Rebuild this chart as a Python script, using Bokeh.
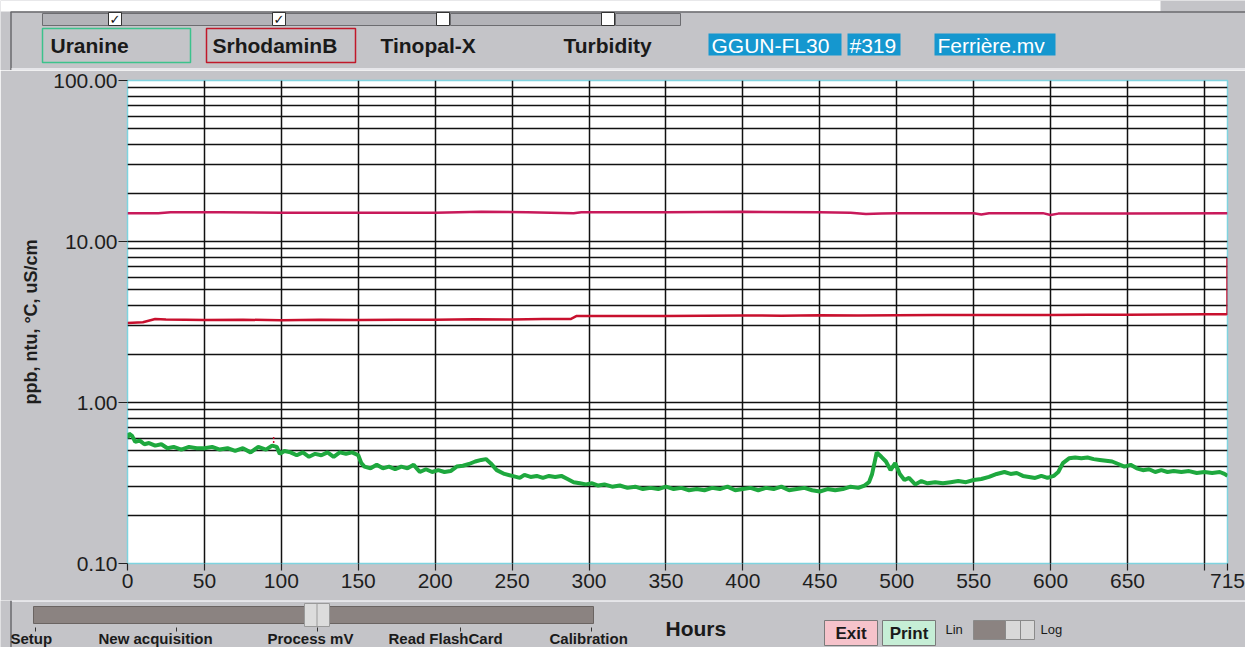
from bokeh.plotting import figure
from bokeh.models import Range1d, FixedTicker, CustomJSTickFormatter
from bokeh.embed import file_html
from bokeh.resources import INLINE
from bokeh.core.properties import value

# ---------------- data ----------------
hours_uranine = [0, 1, 3, 5, 8, 11, 14, 18, 22, 26,
                 30, 35, 40, 45, 50, 55, 60, 65, 70, 75,
                 80, 85, 90, 94, 97, 99, 102, 106, 110, 114,
                 118, 122, 126, 130, 134, 138, 142, 146, 150,
                 152, 154, 158, 162, 166, 170, 174, 178, 182, 186,
                 190, 194, 198, 202, 206, 210, 214, 218, 222, 226,
                 230, 233, 236, 240,
                 245, 250, 255, 258, 262, 266, 270, 274, 278, 282,
                 286, 290, 294, 298, 302, 306, 310, 315, 320, 325,
                 330, 335, 340, 345, 350, 355, 360, 365, 370, 375,
                 380, 385, 390, 395, 400, 405, 410, 415, 420, 425,
                 430, 435, 440, 445, 450, 455, 460, 465, 470, 475,
                 479, 482,
                 484, 487, 490, 493, 496, 499, 502,
                 505, 508, 512, 516, 520, 525, 530, 535, 540, 545,
                 550, 555, 560, 565, 570, 574, 578, 582, 586, 590,
                 594, 598, 602, 605, 608, 612, 616, 620, 624, 628,
                 632, 636, 640, 644, 648, 652, 656, 660, 664, 668,
                 672, 676, 680, 685, 690, 695, 700, 705, 710, 713,
                 715]
uranine = [0.60, 0.64, 0.62, 0.57, 0.58, 0.55, 0.56, 0.54, 0.55, 0.52,
           0.53, 0.51, 0.53, 0.52, 0.52, 0.53, 0.51, 0.52, 0.50, 0.52,
           0.49, 0.53, 0.51, 0.54, 0.53, 0.48, 0.50, 0.49, 0.47, 0.49,
           0.46, 0.48, 0.47, 0.49, 0.46, 0.49, 0.48, 0.49, 0.47,
           0.42, 0.40, 0.39, 0.41, 0.39, 0.40, 0.385, 0.40, 0.39, 0.41,
           0.37, 0.385, 0.37, 0.38, 0.37, 0.375, 0.40, 0.405, 0.415, 0.43,
           0.44, 0.445, 0.42, 0.38,
           0.36, 0.35, 0.34, 0.355, 0.345, 0.35, 0.34, 0.35, 0.345, 0.35,
           0.335, 0.32, 0.315, 0.31, 0.315, 0.305, 0.31, 0.30, 0.305, 0.295,
           0.30, 0.29, 0.295, 0.29, 0.30, 0.29, 0.295, 0.285, 0.29, 0.285,
           0.295, 0.29, 0.30, 0.285, 0.29, 0.295, 0.285, 0.295, 0.29, 0.30,
           0.285, 0.29, 0.295, 0.285, 0.28, 0.29, 0.285, 0.29, 0.30, 0.295,
           0.305, 0.32,
           0.36, 0.49, 0.46, 0.43, 0.38, 0.42, 0.36,
           0.33, 0.34, 0.31, 0.325, 0.315, 0.32, 0.315, 0.32, 0.325, 0.32,
           0.33, 0.335, 0.345, 0.36, 0.37, 0.36, 0.365, 0.35, 0.345, 0.34,
           0.35, 0.34, 0.35, 0.37, 0.42, 0.45, 0.455, 0.45, 0.455, 0.445,
           0.44, 0.435, 0.43, 0.415, 0.40, 0.41, 0.39, 0.38, 0.385, 0.37,
           0.38, 0.37, 0.375, 0.37, 0.375, 0.365, 0.37, 0.365, 0.37, 0.36,
           0.35]

hours_rhod_upper = [0, 20, 28, 60, 100, 150, 200, 230, 260, 290, 295, 350, 400, 450, 470,
                    480, 490, 500, 550, 555, 560, 595, 600, 605, 650, 715]
rhod_upper = [15.0, 15.0, 15.2, 15.2, 15.1, 15.1, 15.1, 15.3, 15.2, 15.0, 15.2, 15.2, 15.3,
              15.2, 15.1, 14.8, 14.9, 15.0, 15.0, 14.7, 15.0, 15.0, 14.6, 14.9, 14.9, 15.0]

hours_rhod_lower = [0, 10, 18, 25, 50, 75, 100, 125, 150, 175, 200, 225, 250, 270, 288, 292,
                    320, 350, 375, 400, 425, 450, 475, 500, 525, 550, 575, 600, 625, 650,
                    675, 700, 714, 715, 715]
rhod_lower = [3.12, 3.15, 3.30, 3.28, 3.25, 3.27, 3.24, 3.26, 3.25, 3.27, 3.27, 3.29, 3.28,
              3.30, 3.30, 3.45, 3.44, 3.45, 3.46, 3.47, 3.46, 3.48, 3.47, 3.48, 3.49, 3.50,
              3.49, 3.50, 3.51, 3.51, 3.52, 3.53, 3.53, 3.55, 7.9]

hours_mark = [95, 95]
mark = [0.53, 0.62]

x_ticks = [0, 50, 100, 150, 200, 250, 300, 350, 400, 450, 500, 550, 600, 650, 700, 715]
x_grid = [50, 100, 150, 200, 250, 300, 350, 400, 450, 500, 550, 600, 650, 700]
y_ticks = [0.1, 1, 10, 100]
y_grid_major = [1, 10]
y_minor = [0.2, 0.3, 0.4, 0.5, 0.6, 0.7, 0.8, 0.9, 2, 3, 4, 5, 6, 7, 8, 9,
           20, 30, 40, 50, 60, 70, 80, 90]

header_tags = ["Uranine", "SrhodaminB", "Tinopal-X", "Turbidity"]
info_tags = ["GGUN-FL30", "#319", "Ferrière.mv"]
menu_items = ["Setup", "New acquisition", "Process mV", "Read FlashCard", "Calibration"]

# ---------------- style ----------------
FONT = value("Liberation Sans")
PANEL = "#c4c4c8"
W = 1245
GREEN = "#1ea83e"
RED_UP = "#c8195a"
RED_LO = "#c8102e"
BLUE = "#1597cf"


def ui_fig(top, bottom):
    f = figure(width=W, height=bottom - top, x_range=Range1d(0, W),
               y_range=Range1d(bottom, top), output_backend="svg",
               toolbar_location=None, x_axis_location=None, y_axis_location=None,
               min_border=0, background_fill_color=PANEL, border_fill_color=PANEL,
               outline_line_color=None)
    f.xgrid.visible = False
    f.ygrid.visible = False
    return f


# ---------------- header ----------------
h = ui_fig(0, 70)
h.quad(left=[0], right=[1160], top=[0], bottom=[11], fill_color="white", line_color=None)
h.line(x=[10, W], y=[11.5, 11.5], line_color="#6a6a6e", line_width=1.5)
h.line(x=[10.5, 10.5], y=[11.5, 70], line_color="#6a6a6e", line_width=1.5)
# checkbox bar
seg_l = [42, 121, 285, 450, 615]
seg_r = [108, 272, 436, 601, 680]
h.quad(left=seg_l, right=seg_r, top=[13] * 5, bottom=[25] * 5,
       fill_color="#b3b3b8", line_color="#6c6c70", line_width=1)
box_l = [108, 272, 436, 601]
h.quad(left=box_l, right=[b + 13 for b in box_l], top=[12] * 4, bottom=[25] * 4,
       fill_color="white", line_color="#333333", line_width=1)
h.text(x=[114.5, 278.5], y=[19, 19], text=["✓", "✓"], text_font=value("DejaVu Sans"),
       text_font_style="bold", text_font_size="13px", text_align="center",
       text_baseline="middle", text_color="#111111")
# tags
h.quad(left=[42], right=[190], top=[28], bottom=[62], fill_color=None,
       line_color="#3cc28c", line_width=1.5)
h.quad(left=[206], right=[355], top=[28], bottom=[62], fill_color=None,
       line_color="#c0182a", line_width=1.5)
h.text(x=[50, 212, 380, 563], y=[45, 45, 45, 45], text=header_tags, text_font=FONT,
       text_font_style="bold", text_font_size="21px", text_baseline="middle",
       text_color="#1a1a1a")
h.quad(left=[708, 847, 934], right=[841, 900, 1055], top=[33] * 3, bottom=[55] * 3,
       fill_color=BLUE, line_color=None)
h.text(x=[711, 849, 937], y=[44.5] * 3, text=info_tags, text_font=FONT,
       text_font_size="21px", text_baseline="middle", text_color="white")
h.line(x=[11, W], y=[68.5, 68.5], line_color="#e6e6ea", line_width=2)

# ---------------- main plot ----------------
p = figure(width=W, height=530, x_range=Range1d(0, 715), y_range=Range1d(0.1, 100),
           y_axis_type="log", output_backend="svg", toolbar_location=None,
           min_border_left=127, min_border_right=18, min_border_top=10,
           min_border_bottom=37, background_fill_color="white",
           border_fill_color=PANEL, outline_line_color="#7fd4e0", outline_line_width=1.5)

p.xaxis.ticker = FixedTicker(ticks=x_ticks)
p.xaxis.formatter = CustomJSTickFormatter(code="return tick == 700 ? '' : tick.toString();")
p.yaxis.ticker = FixedTicker(ticks=y_ticks)
p.yaxis.formatter = CustomJSTickFormatter(code="return tick.toFixed(2);")
p.xgrid.ticker = FixedTicker(ticks=x_grid)
p.ygrid.ticker = FixedTicker(ticks=y_grid_major, minor_ticks=y_minor)

p.xgrid.grid_line_color = "#111111"
p.xgrid.grid_line_width = 1.5
p.ygrid.grid_line_color = "#111111"
p.ygrid.grid_line_width = 1.6
p.ygrid.minor_grid_line_color = "#111111"
p.ygrid.minor_grid_line_width = 1.6

for ax in (p.xaxis, p.yaxis):
    ax.axis_line_color = None
    ax.minor_tick_line_color = None
    ax.major_tick_in = 0
    ax.major_tick_line_color = "#222222"
    ax.major_tick_line_width = 1.2
    ax.major_label_text_font = "Liberation Sans"
    ax.major_label_text_font_size = "21px"
    ax.major_label_text_color = "#1e1e1e"

p.xaxis.major_tick_out = 7
p.xaxis.major_label_standoff = 3
p.yaxis.major_tick_out = 9
p.yaxis.major_label_standoff = 1
p.yaxis.axis_label = "ppb, ntu, °C, uS/cm"
p.yaxis.axis_label_text_font = "Liberation Sans"
p.yaxis.axis_label_text_font_style = "bold"
p.yaxis.axis_label_text_font_size = "18px"
p.yaxis.axis_label_text_color = "#1e1e1e"
p.yaxis.axis_label_standoff = 9

p.line(hours_rhod_upper, rhod_upper, line_color=RED_UP, line_width=2.5)
p.line(hours_rhod_lower, rhod_lower, line_color=RED_LO, line_width=2.5)
p.line(hours_mark, mark, line_color=RED_LO, line_width=1.5, line_dash="2 2")
p.line(hours_uranine, uranine, line_color=GREEN, line_width=4)

# ---------------- footer ----------------
f = ui_fig(600, 647)
f.line(x=[11, W], y=[600.5, 600.5], line_color="#e6e6ea", line_width=2)
f.line(x=[10.5, 10.5], y=[600, 647], line_color="#6a6a6e", line_width=1.5)
f.quad(left=[33], right=[593], top=[606], bottom=[623], fill_color="#8b8381",
       line_color="#6a6462", line_width=1)
f.quad(left=[304], right=[329], top=[603], bottom=[626], fill_color="#dcdcdc",
       line_color="#9a9a9a", line_width=1)
f.line(x=[316.5, 316.5], y=[603, 626], line_color="#9a9a9a", line_width=1)
f.segment(x0=[35, 176, 317, 460, 591], y0=[627] * 5, x1=[35, 176, 317, 460, 591],
          y1=[631] * 5, line_color="#333333", line_width=1)
f.text(x=[10, 98, 267, 388, 549], y=[646] * 5, text=menu_items, text_font=FONT,
       text_font_style="bold", text_font_size="15px", text_baseline="bottom",
       text_color="#1a1a1a")
f.text(x=[665], y=[628], text=["Hours"], text_font=FONT, text_font_style="bold",
       text_font_size="21px", text_baseline="middle", text_color="#1a1a1a")
f.quad(left=[824, 882], right=[877, 935], top=[620, 620], bottom=[645, 645],
       fill_color=["#f6c3cb", "#c6eed6"], line_color="#7a7a7a", line_width=1)
f.text(x=[850.5, 908.5], y=[633, 633], text=["Exit", "Print"], text_font=FONT,
       text_font_style="bold", text_font_size="17px", text_align="center",
       text_baseline="middle", text_color="#1a1a1a")
f.text(x=[945, 1040], y=[629, 629], text=["Lin", "Log"], text_font=FONT,
       text_font_size="13px", text_baseline="middle", text_color="#1a1a1a")
f.quad(left=[973, 1005], right=[1005, 1034], top=[620, 620], bottom=[639, 639],
       fill_color=["#8b8381", "#d8d8d8"], line_color="#8a8a8a", line_width=1)
f.line(x=[1020, 1020], y=[620, 639], line_color="#8a8a8a", line_width=1)

open("out.html", "w").write(file_html([h, p, f], INLINE))
